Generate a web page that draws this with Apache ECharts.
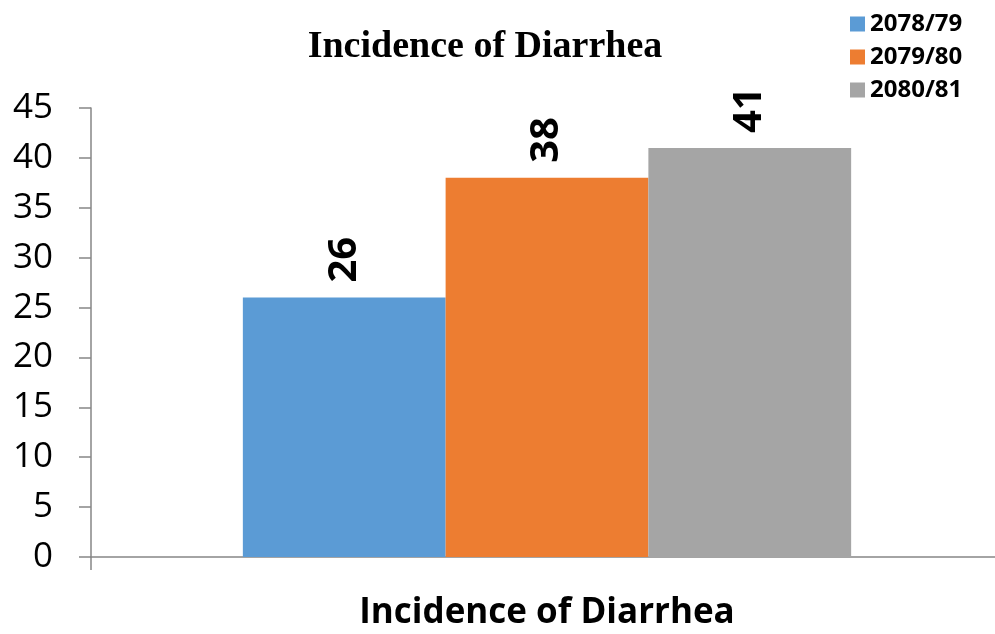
<!DOCTYPE html>
<html>
<head>
<meta charset="utf-8">
<title>Incidence of Diarrhea</title>
<script src="https://cdn.jsdelivr.net/npm/echarts@6/dist/echarts.min.js"></script>
<style>
  html, body { margin: 0; padding: 0; background: #fff; overflow: hidden; }
  /* the plot area runs slightly past the right edge of the window */
  #chart { width: 1003px; height: 634px; }
</style>
</head>
<body>
<div id="chart"></div>
<script>
// Chart data
const categories = ['Incidence of Diarrhea'];
const seriesNames = ['2078/79', '2079/80', '2080/81'];
const values2078 = [26];
const values2079 = [38];
const values2080 = [41];
const yTicks = [0, 5, 10, 15, 20, 25, 30, 35, 40, 45];

const colors = ['#5B9BD5', '#ED7D31', '#A5A5A5'];
const seriesValues = [values2078, values2079, values2080];

const chart = echarts.init(document.getElementById('chart'), null, { renderer: 'canvas' });

const axisGray = '#868686';

const option = {
  animation: false,
  backgroundColor: '#ffffff',
  color: colors,
  title: {
    text: 'Incidence of Diarrhea',
    left: 480,
    top: 23,
    textAlign: 'center',
    textStyle: {
      fontFamily: '"Liberation Serif", "Times New Roman", serif',
      fontWeight: 'bold',
      fontSize: 38,
      color: '#000'
    }
  },
  legend: {
    orient: 'vertical',
    left: 845,
    top: 7,
    itemWidth: 15,
    itemHeight: 15,
    itemGap: 9,
    icon: 'rect',
    data: seriesNames,
    textStyle: {
      fontFamily: '"Open Sans", sans-serif',
      fontWeight: 'bold',
      fontSize: 24,
      lineHeight: 24,
      color: '#000'
    }
  },
  grid: {
    left: 91,
    right: 0,
    top: 108,
    bottom: 77,
    containLabel: false
  },
  xAxis: {
    type: 'category',
    data: categories,
    axisLine: { show: true, lineStyle: { color: axisGray, width: 1.5 } },
    axisTick: { show: true, length: 13, lineStyle: { color: axisGray, width: 1.5 } },
    axisLabel: {
      margin: 39,
      fontFamily: '"Open Sans", sans-serif',
      fontWeight: 'bold',
      fontSize: 35,
      color: '#000'
    },
    splitLine: { show: false }
  },
  yAxis: {
    type: 'value',
    min: yTicks[0],
    max: yTicks[yTicks.length - 1],
    interval: yTicks[1] - yTicks[0],
    axisLine: { show: true, lineStyle: { color: axisGray, width: 1.5 } },
    axisTick: { show: true, length: 12, lineStyle: { color: axisGray, width: 1.5 } },
    axisLabel: {
      margin: 38,
      fontFamily: '"Open Sans", sans-serif',
      fontSize: 35,
      color: '#000'
    },
    splitLine: { show: false }
  },
  series: seriesNames.map((name, i) => ({
    name: name,
    type: 'bar',
    data: seriesValues[i],
    barGap: '0%',
    barCategoryGap: '33.3%',
    itemStyle: { color: colors[i] },
    label: {
      show: true,
      position: 'top',
      distance: 15,
      rotate: 90,
      align: 'left',
      verticalAlign: 'middle',
      fontFamily: '"Open Sans", sans-serif',
      fontWeight: 'bold',
      fontSize: 40,
      color: '#000'
    }
  }))
};

chart.setOption(option);
</script>
</body>
</html>
